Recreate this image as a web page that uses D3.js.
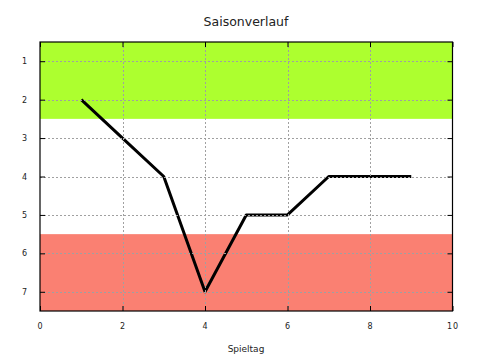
<!DOCTYPE html>
<html>
<head>
<meta charset="utf-8">
<script src="https://cdn.jsdelivr.net/npm/d3@7"></script>
<style>
  body { margin: 0; background: #fff; }
  text { font-family: "DejaVu Sans", sans-serif; fill: #222; }
</style>
</head>
<body>
<svg id="chart" width="480" height="360"></svg>
<script>
// Spieltag / Platz
var spieltage = [1, 2, 3, 4, 5, 6, 7, 8, 9];
var platz = [2, 3, 4, 7, 5, 5, 4, 4, 4];
var xTicks = [0, 2, 4, 6, 8, 10];
var yTicks = [1, 2, 3, 4, 5, 6, 7];
// coloured zones: [from, to, colour]
var zonen = [[0.5, 2.5, "#adff2f"], [5.5, 7.5, "#fa8072"]];

var svg = d3.select("#chart"),
    margin = {top: 42, right: 27.5, bottom: 49, left: 40},
    w = 480 - margin.left - margin.right,
    h = 360 - margin.top - margin.bottom;

var x = d3.scaleLinear().domain([0, 10]).range([0, w]),
    y = d3.scaleLinear().domain([0.5, 7.5]).range([0, h]);

var g = svg.append("g").attr("transform", "translate(" + margin.left + "," + margin.top + ")");

//zones
g.selectAll("rect.zone").data(zonen).enter().append("rect")
    .attr("class", "zone")
    .attr("x", 0).attr("width", w)
    .attr("y", d => y(d[0]))
    .attr("height", d => y(d[1]) - y(d[0]))
    .attr("fill", d => d[2]);

//line
var line = d3.line().x((d, i) => x(spieltage[i])).y(d => y(d));
g.append("path").datum(platz)
    .attr("d", line)
    .attr("fill", "none")
    .attr("stroke", "#000")
    .attr("stroke-width", 3)
    .attr("stroke-linejoin", "round");

//grid on top (gnuplot style)
g.selectAll("line.gx").data(xTicks.filter(d => d > 0 && d < 10)).enter().append("line")
    .attr("x1", d => Math.round(x(d)) + 0.5).attr("x2", d => Math.round(x(d)) + 0.5)
    .attr("y1", 0).attr("y2", h)
    .attr("stroke", "#a0a0a0").attr("stroke-dasharray", "2,2");
g.selectAll("line.gy").data(yTicks).enter().append("line")
    .attr("y1", d => Math.round(y(d)) + 0.5).attr("y2", d => Math.round(y(d)) + 0.5)
    .attr("x1", 0).attr("x2", w)
    .attr("stroke", "#a0a0a0").attr("stroke-dasharray", "2,2");

//axes
var xAxis = g.append("g").attr("transform", "translate(0," + h + ")")
    .call(d3.axisBottom(x).tickValues(xTicks).tickSize(-5).tickPadding(12));
var xTop = g.append("g")
    .call(d3.axisTop(x).tickValues(xTicks).tickSize(-5).tickFormat(""));
var yAxis = g.append("g")
    .call(d3.axisLeft(y).tickValues(yTicks).tickFormat(d3.format("d")).tickSize(-5).tickPadding(12));
var yRight = g.append("g").attr("transform", "translate(" + w + ",0)")
    .call(d3.axisRight(y).tickValues(yTicks).tickSize(-5).tickFormat(""));

[xAxis, xTop, yAxis, yRight].forEach(function(a) {
    a.select(".domain").remove();
    a.selectAll("line").attr("stroke", "#000");
    a.selectAll("text").style("font-size", "8px").style("letter-spacing", "1px").attr("fill", "#222");
});

g.append("rect")
    .attr("x", 0).attr("y", 0).attr("width", w).attr("height", h)
    .attr("fill", "none").attr("stroke", "#000").attr("stroke-width", 1.2);

//labels
svg.append("text")
    .attr("x", 246).attr("y", 26)
    .attr("text-anchor", "middle")
    .style("font-size", "12.5px")
    .text("Saisonverlauf");

svg.append("text")
    .attr("x", 246).attr("y", 352)
    .attr("text-anchor", "middle")
    .style("font-size", "9px")
    .text("Spieltag");
</script>
</body>
</html>
